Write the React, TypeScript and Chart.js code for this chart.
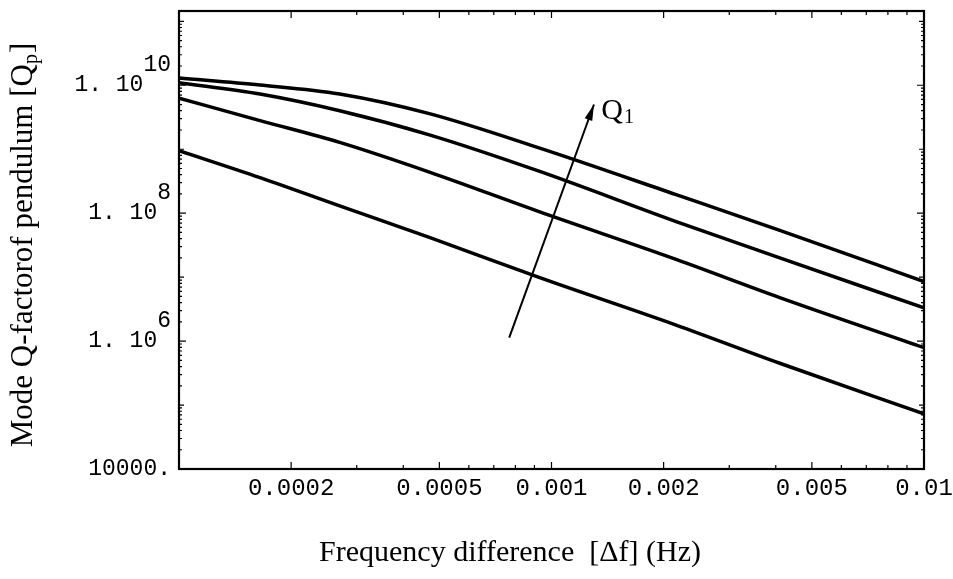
import React, { useEffect, useRef } from "react";
import { Chart, registerables } from "chart.js";

Chart.register(...registerables);

// Frequency difference samples (Hz)
const freqHz = [1e-4, 1.65e-4, 2.7e-4, 4.7e-4, 9.3e-4, 2.16e-3, 4.1e-3, 1e-2];
// Mode Q-factor of pendulum for increasing Q1 (bottom → top)
const qCurveA = [9.5e8, 3.6e8, 1.3e8, 4.2e7, 9.8e6, 1.78e6, 4.5e5, 7.3e4];
const qCurveB = [6.3e9, 2.8e9, 1.28e9, 4.4e8, 1.05e8, 1.9e7, 4.8e6, 7.9e5];
const qCurveC = [1.1e10, 7.3e9, 4.0e9, 1.68e9, 4.5e8, 7.4e7, 2.0e7, 3.3e6];
const qCurveD = [1.3e10, 1.01e10, 7.3e9, 3.6e9, 1.04e9, 1.95e8, 5.4e7, 8.5e6];

const xTickValues = [0.0002, 0.0005, 0.001, 0.002, 0.005, 0.01];
const xTickLabels = ["0.0002", "0.0005", "0.001", "0.002", "0.005", "0.01"];
const yTickValues = [1e4, 1e6, 1e8, 1e10];
const yTickBase = ["10000.", "1. 10", "1. 10", "1. 10"];
const yTickExp = ["", "6", "8", "10"];

// Arrow annotation (data coordinates)
const arrowTail = { x: 7.7e-4, y: 1.13e6 };
const arrowHead = { x: 1.3e-3, y: 5.0e9 };
const q1Label = { x: 1.36e-3, y: 4.3e9 };

const X_MIN = 1e-4;
const X_MAX = 1e-2;
const Y_MIN = 1e4;
const Y_MAX = 1.45e11;

const SERIF = "'Liberation Serif', 'DejaVu Serif', serif";
const MONO = "'Liberation Mono', 'DejaVu Sans Mono', monospace";

const overlayPlugin = {
  id: "overlay",
  afterDraw(chart: any) {
    const { ctx, chartArea: a, scales } = chart;
    const xs = scales.x;
    const ys = scales.y;
    ctx.save();

    // frame
    ctx.strokeStyle = "#000";
    ctx.lineWidth = 2.2;
    ctx.strokeRect(a.left, a.top, a.right - a.left, a.bottom - a.top);

    // inward ticks
    ctx.lineWidth = 1.2;
    ctx.beginPath();
    for (let d = -4; d <= -2; d++) {
      for (let m = 1; m <= 9; m++) {
        const v = m * Math.pow(10, d);
        if (v < X_MIN || v > X_MAX) continue;
        const px = xs.getPixelForValue(v);
        const major = xTickValues.some((t) => Math.abs(t - v) / v < 1e-6);
        const len = major ? 7 : 4;
        ctx.moveTo(px, a.bottom);
        ctx.lineTo(px, a.bottom - len);
        ctx.moveTo(px, a.top);
        ctx.lineTo(px, a.top + len);
      }
    }
    for (let d = 4; d <= 11; d++) {
      for (let m = 1; m <= 9; m++) {
        const v = m * Math.pow(10, d);
        if (v < Y_MIN || v > Y_MAX) continue;
        const py = ys.getPixelForValue(v);
        const major = yTickValues.some((t) => Math.abs(t - v) / v < 1e-6);
        const len = major ? 7 : m === 1 ? 5 : 3;
        ctx.moveTo(a.left, py);
        ctx.lineTo(a.left + len, py);
        ctx.moveTo(a.right, py);
        ctx.lineTo(a.right - len, py);
      }
    }
    ctx.stroke();

    // arrow
    const tx = xs.getPixelForValue(arrowTail.x);
    const ty = ys.getPixelForValue(arrowTail.y);
    const hx = xs.getPixelForValue(arrowHead.x);
    const hy = ys.getPixelForValue(arrowHead.y);
    ctx.lineWidth = 2;
    ctx.beginPath();
    ctx.moveTo(tx, ty);
    ctx.lineTo(hx, hy);
    ctx.stroke();
    const ang = Math.atan2(hy - ty, hx - tx);
    const L = 16;
    const W = 4;
    ctx.beginPath();
    ctx.moveTo(hx, hy);
    ctx.lineTo(
      hx - L * Math.cos(ang) + W * Math.sin(ang),
      hy - L * Math.sin(ang) - W * Math.cos(ang)
    );
    ctx.lineTo(
      hx - L * Math.cos(ang) - W * Math.sin(ang),
      hy - L * Math.sin(ang) + W * Math.cos(ang)
    );
    ctx.closePath();
    ctx.fillStyle = "#000";
    ctx.fill();

    // Q1 label
    const qx = xs.getPixelForValue(q1Label.x);
    const qy = ys.getPixelForValue(q1Label.y);
    ctx.fillStyle = "#000";
    ctx.textBaseline = "alphabetic";
    ctx.textAlign = "left";
    ctx.font = `30px ${SERIF}`;
    ctx.fillText("Q", qx, qy + 10);
    const qw = ctx.measureText("Q").width;
    ctx.font = `20px ${SERIF}`;
    ctx.fillText("1", qx + qw + 1, qy + 14);

    // x title
    ctx.font = `30px ${SERIF}`;
    ctx.textAlign = "center";
    ctx.textBaseline = "middle";
    ctx.fillText("Frequency difference  [\u0394f] (Hz)", 510, 553);

    // y title (rotated, with subscript p)
    ctx.translate(24, 245);
    ctx.rotate(-Math.PI / 2);
    const main = "Mode Q-factorof pendulum [Q";
    ctx.font = `31px ${SERIF}`;
    const w1 = ctx.measureText(main).width;
    ctx.font = `20px ${SERIF}`;
    const w2 = ctx.measureText("p").width;
    ctx.font = `31px ${SERIF}`;
    const w3 = ctx.measureText("]").width;
    const total = w1 + w2 + w3 + 1;
    let cx = -total / 2;
    ctx.textAlign = "left";
    ctx.textBaseline = "middle";
    ctx.fillText(main, cx, 0);
    cx += w1;
    ctx.font = `20px ${SERIF}`;
    ctx.fillText("p", cx, 8);
    cx += w2 + 1;
    ctx.font = `31px ${SERIF}`;
    ctx.fillText("]", cx, 0);

    ctx.restore();
  },
};

export default function App() {
  const canvasRef = useRef<HTMLCanvasElement | null>(null);

  useEffect(() => {
    if (!canvasRef.current) return;
    const mk = (data: number[]) => ({
      data: freqHz.map((x, i) => ({ x, y: data[i] })),
      borderColor: "#000",
      borderWidth: 3.5,
      pointRadius: 0,
      fill: false,
      cubicInterpolationMode: "monotone" as const,
    });
    const chart = new Chart(canvasRef.current, {
      type: "line",
      data: {
        datasets: [mk(qCurveA), mk(qCurveB), mk(qCurveC), mk(qCurveD)],
      },
      options: {
        responsive: false,
        animation: false,
        events: [],
        layout: { padding: { top: 11, right: 29, left: 0, bottom: 0 } },
        plugins: {
          legend: { display: false },
          tooltip: { enabled: false },
          title: { display: false },
        },
        scales: {
          x: {
            type: "logarithmic",
            min: X_MIN,
            max: X_MAX,
            grid: { display: false, drawTicks: false },
            border: { display: false },
            afterBuildTicks: (scale: any) => {
              scale.ticks = xTickValues.map((v) => ({ value: v }));
            },
            afterFit: (scale: any) => {
              scale.height = 110;
              scale.paddingLeft = 0;
              scale.paddingRight = 0;
            },
            ticks: {
              autoSkip: false,
              maxRotation: 0,
              padding: 5,
              color: "#000",
              font: { family: MONO, size: 24 },
              callback: (v: any) => {
                const i = xTickValues.findIndex((t) => Math.abs(t - v) / t < 1e-6);
                return i >= 0 ? xTickLabels[i] : "";
              },
            },
          },
          y: {
            type: "logarithmic",
            min: Y_MIN,
            max: Y_MAX,
            grid: { display: false, drawTicks: false },
            border: { display: false },
            afterBuildTicks: (scale: any) => {
              scale.ticks = yTickValues.map((v) => ({ value: v }));
            },
            afterFit: (scale: any) => {
              scale.width = 179;
              scale.paddingTop = 0;
              scale.paddingBottom = 0;
            },
            ticks: {
              autoSkip: false,
              padding: 8,
              color: "#000",
              font: { family: MONO, size: 23, lineHeight: "20px" },
              callback: (v: any) => {
                const i = yTickValues.findIndex((t) => Math.abs(t - v) / t < 1e-6);
                if (i < 0) return "";
                const exp = yTickExp[i];
                if (!exp) return yTickBase[i];
                return [exp, yTickBase[i] + " ".repeat(exp.length), ""];
              },
            },
          },
        },
      },
      plugins: [overlayPlugin],
    });
    return () => chart.destroy();
  }, []);

  return (
    <div style={{ position: "absolute", left: 0, top: 0, width: 953, height: 579, background: "#fff" }}>
      <canvas ref={canvasRef} width={953} height={579} style={{ display: "block" }} />
    </div>
  );
}
